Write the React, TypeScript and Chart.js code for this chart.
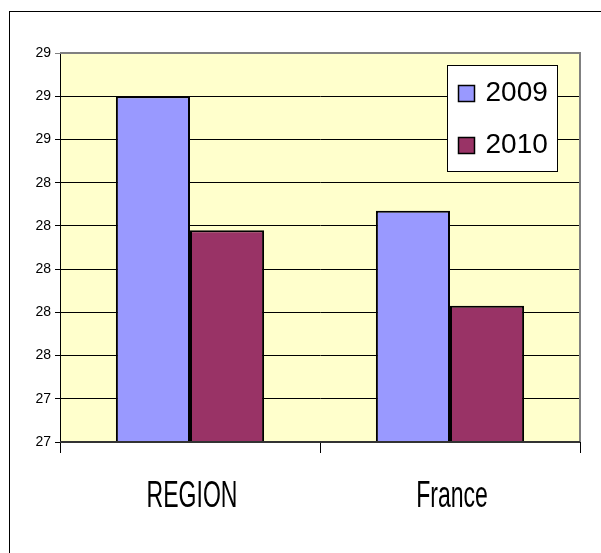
import React, { useEffect, useRef } from "react";
import { Chart, registerables } from "chart.js";

Chart.register(...registerables);

const categories = ["REGION", "France"];
const seriesLabels = ["2009", "2010"];
const values2009 = [28.8, 28.27];
const values2010 = [28.18, 27.83];
const colors = ["#9999FF", "#993366"];
const yMin = 27.2;
const yMax = 29.0;
const yStep = 0.2;

const FONT = "'Liberation Sans', Arial, sans-serif";

const framePlugin = {
  id: "framePlugin",
  beforeDraw(chart: any) {
    const { ctx, chartArea } = chart;
    ctx.save();
    ctx.fillStyle = "#ffffff";
    ctx.fillRect(0, 0, chart.width, chart.height);
    ctx.strokeStyle = "#000000";
    ctx.lineWidth = 1;
    ctx.strokeRect(9.5, 11.5, chart.width + 20, chart.height + 20);
    ctx.fillStyle = "#FFFFCC";
    ctx.fillRect(chartArea.left, chartArea.top, chartArea.right - chartArea.left, chartArea.bottom - chartArea.top);
    ctx.restore();
  },
  afterDatasetsDraw(chart: any) {
    const { ctx, chartArea } = chart;
    ctx.save();
    ctx.strokeStyle = "#808080";
    ctx.lineWidth = 2;
    ctx.beginPath();
    ctx.moveTo(chartArea.left, chartArea.top);
    ctx.lineTo(chartArea.right, chartArea.top);
    ctx.lineTo(chartArea.right, chartArea.bottom);
    ctx.stroke();
    ctx.strokeStyle = "#333333";
    ctx.lineWidth = 2;
    ctx.beginPath();
    ctx.moveTo(chartArea.left, chartArea.bottom);
    ctx.lineTo(chartArea.right, chartArea.bottom);
    ctx.stroke();

    // condensed category labels
    const xs = chart.scales.x;
    ctx.fillStyle = "#000000";
    ctx.font = `36px ${FONT}`;
    ctx.textAlign = "center";
    ctx.textBaseline = "middle";
    (chart.data.labels as string[]).forEach((lab: string, i: number) => {
      const px = xs.getPixelForValue(i);
      ctx.save();
      ctx.translate(px + 2, chartArea.bottom + 55);
      ctx.scale(0.64, 1);
      ctx.fillText(lab, 0, 0);
      ctx.restore();
    });

    // legend
    const bw = 110;
    const bh = 106;
    const bx = Math.round(chartArea.right - 23 - bw) + 0.5;
    const by = Math.round(chartArea.top + 12) + 0.5;
    ctx.fillStyle = "#ffffff";
    ctx.fillRect(bx, by, bw, bh);
    ctx.strokeStyle = "#000000";
    ctx.lineWidth = 1;
    ctx.strokeRect(bx, by, bw, bh);
    const ds = chart.data.datasets;
    ds.forEach((d: any, i: number) => {
      const cy = by + 28 + i * 52;
      ctx.fillStyle = d.backgroundColor;
      ctx.fillRect(bx + 11, cy - 8, 16, 16);
      ctx.strokeStyle = "#000000";
      ctx.lineWidth = 1.5;
      ctx.strokeRect(bx + 11, cy - 8, 16, 16);
      ctx.fillStyle = "#000000";
      ctx.font = `28px ${FONT}`;
      ctx.textBaseline = "middle";
      ctx.textAlign = "left";
      ctx.fillText(d.label, bx + 38, cy);
    });
    ctx.restore();
  },
};

export default function App() {
  const ref = useRef<HTMLCanvasElement>(null);
  useEffect(() => {
    if (!ref.current) return;
    const chart = new Chart(ref.current, {
      type: "bar",
      data: {
        labels: categories,
        datasets: [
          {
            label: seriesLabels[0],
            data: values2009,
            backgroundColor: colors[0],
            borderColor: "#000000",
            borderWidth: 2,
          },
          {
            label: seriesLabels[1],
            data: values2010,
            backgroundColor: colors[1],
            borderColor: "#000000",
            borderWidth: 2,
          },
        ],
      },
      options: {
        responsive: false,
        animation: false,
        events: [],
        layout: { padding: { top: 53, right: 21, left: 0, bottom: 31 } },
        datasets: { bar: { categoryPercentage: 0.57, barPercentage: 1 } },
        plugins: { legend: { display: false }, tooltip: { enabled: false } },
        scales: {
          x: {
            afterFit: (s: any) => {
              s.height = 80;
            },
            border: { display: false },
            grid: {
              display: true,
              drawOnChartArea: false,
              drawTicks: true,
              tickLength: 11,
              color: "#000000",
              lineWidth: 1,
            },
            ticks: {
              color: "rgba(0,0,0,0)",
              font: { family: FONT, size: 12 },
              padding: 30,
            },
          },
          y: {
            min: yMin,
            max: yMax,
            afterFit: (s: any) => {
              s.width = 60;
            },
            border: { display: true, color: "#000000", width: 1 },
            grid: {
              color: (c: any) => (c.tick && Math.abs(c.tick.value - yMax) < 1e-6 ? "#808080" : "#000000"),
              lineWidth: 1,
              drawTicks: true,
              tickLength: 5,
            },
            ticks: {
              stepSize: yStep,
              color: "#000000",
              font: { family: FONT, size: 14 },
              padding: 4,
              callback: (v: any) => String(Math.round(Number(v))),
            },
          },
        },
      },
      plugins: [framePlugin],
    });
    return () => chart.destroy();
  }, []);
  return (
    <div style={{ position: "absolute", left: 0, top: 0, width: 601, height: 553 }}>
      <canvas ref={ref} width={601} height={553} />
    </div>
  );
}
